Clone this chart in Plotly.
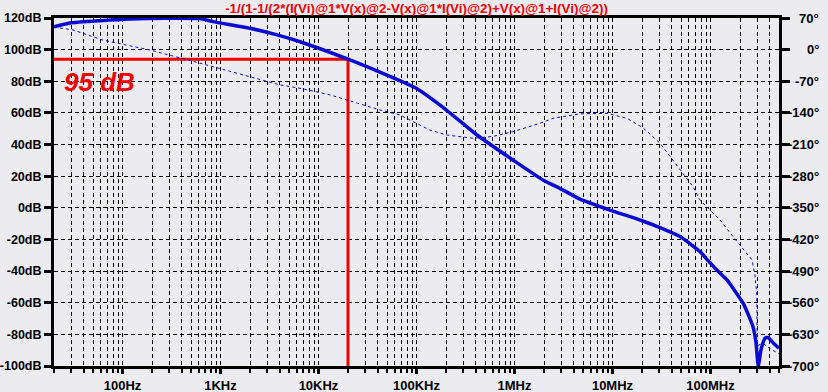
import plotly.graph_objects as go
import math

# ---- data ----
freq_mag = [20, 29, 59, 119, 272, 618, 838, 2000, 3775, 6475, 20000, 42400, 96600,
            205000, 405000, 966000, 1.95e6, 2.91e6, 4.66e6, 9.42e6, 1.91e7, 3.05e7,
            4.89e7, 7.82e7, 9.2e7, 1.16e8, 1.47e8, 2.15e8, 2.71e8, 2.91e8, 3.07e8,
            3.27e8, 3.6e8, 3.86e8, 4.45e8, 5.0e8]
mag_db = [114.4, 116.8, 118.3, 119.4, 119.8, 119.6, 117.7, 113.5, 109.3, 105.0, 94.0,
          85.8, 76.0, 61.5, 46.5, 30.2, 17.6, 12.3, 5.5, -1.4, -7.7, -12.5,
          -18.2, -27.7, -32.6, -39.3, -45.6, -60.3, -75.0, -85.0, -100.0,
          -90.0, -82.5, -82.0, -86.0, -88.8]

freq_phase = [20, 31.3, 63.2, 151, 191, 618, 2000, 4045, 6475, 13100, 42400, 67900,
              92100, 137000, 205000, 377000, 604000, 966000, 1.82e6, 2.47e6, 4.66e6,
              8.79e6, 1.41e7, 2.05e7, 3.05e7, 4.14e7, 6.62e7, 7.82e7, 1.25e8, 1.70e8,
              2.65e8, 2.84e8, 2.96e8, 3.0e8, 3.43e8, 4.21e8, 5.0e8]
phase_deg = [50, 43.5, 21, 3.6, -0.8, -30, -60, -78, -85.5, -100, -133.5, -144.6,
             -159, -178, -189, -196, -192, -181.5, -163, -152, -142,
             -141, -152, -173, -207, -244, -303, -333, -377, -414,
             -465, -499, -538, -655, -650, -664, -673]

marker_freq = 20000
marker_db = 94
marker_label = "95 dB"
title_text = "-1/(1-1/(2*(I(Vi)@1*V(x)@2-V(x)@1*I(Vi)@2)+V(x)@1+I(Vi)@2))"

db_ticks = [120, 100, 80, 60, 40, 20, 0, -20, -40, -60, -80, -100]
db_labels = [f"{v}dB" for v in db_ticks]
phase_ticks = [70, 0, -70, -140, -210, -280, -350, -420, -490, -560, -630, -700]
phase_labels = [f"{v}°" for v in phase_ticks]
freq_ticks = [1e2, 1e3, 1e4, 1e5, 1e6, 1e7, 1e8]
freq_labels = ["100Hz", "1KHz", "10KHz", "100KHz", "1MHz", "10MHz", "100MHz"]
freq_min, freq_max = 20, 5e8

# ---- styling ----
BG = "#ECECF0"
BLUE = "#0A0AD2"
RED = "#F00000"
FONT = "Liberation Sans"
W, H = 828, 392
ML, MR, MT, MB = 54, 49, 18, 26

fig = go.Figure()

fig.add_trace(go.Scatter(
    x=[freq_min, marker_freq, marker_freq], y=[marker_db, marker_db, -100],
    mode="lines", line=dict(color=RED, width=3), yaxis="y", hoverinfo="skip",
    showlegend=False))

fig.add_trace(go.Scatter(
    x=freq_phase, y=phase_deg, mode="lines", yaxis="y2",
    line=dict(color=BLUE, width=1, dash="3px,3px"), showlegend=False))

fig.add_trace(go.Scatter(
    x=freq_mag, y=mag_db, mode="lines", yaxis="y",
    line=dict(color=BLUE, width=3.5, shape="spline", smoothing=0.5),
    showlegend=False))

tickfont = dict(family=FONT, size=13, color="black", weight="bold")
ytickfont = dict(family=FONT, size=12.5, color="black", weight="bold")

fig.update_layout(
    width=W, height=H,
    margin=dict(l=ML, r=MR, t=MT, b=MB, pad=0, autoexpand=False),
    paper_bgcolor=BG, plot_bgcolor=BG,
    showlegend=False,
    title=dict(text=title_text, x=0.5, xref="paper", y=1 - 8 / H, yref="container",
               xanchor="center", yanchor="middle",
               font=dict(family=FONT, size=13.4, color=RED, weight="bold")),
    xaxis=dict(
        type="log", range=[math.log10(freq_min), math.log10(freq_max)],
        tickmode="array", tickvals=freq_ticks, ticktext=freq_labels,
        ticks="outside", ticklen=5, tickwidth=3, tickcolor="black",
        tickfont=tickfont, automargin=False,
        showline=True, linecolor="black", linewidth=3, mirror=True,
        showgrid=True, gridcolor="black", gridwidth=1, griddash="4px,3px",
        zeroline=False,
        minor=dict(dtick="D1", ticks="outside", ticklen=4, tickwidth=2,
                   tickcolor="black", showgrid=True, gridcolor="black",
                   gridwidth=1, griddash="4px,3px"),
    ),
    yaxis=dict(
        range=[-100, 120], tickmode="array", tickvals=db_ticks, ticktext=db_labels,
        ticks="outside", ticklen=7, tickwidth=3, tickcolor="black",
        tickfont=ytickfont, automargin=False,
        showline=True, linecolor="black", linewidth=3,
        showgrid=True, gridcolor="black", gridwidth=1, griddash="4px,3px",
        zeroline=False,
    ),
    yaxis2=dict(
        range=[-700, 70], overlaying="y", side="right",
        tickmode="array", tickvals=phase_ticks, ticktext=phase_labels,
        showticklabels=False, automargin=False,
        ticks="outside", ticklen=8, tickwidth=3, tickcolor="black",
        showline=True, linecolor="black", linewidth=3,
        showgrid=False, zeroline=False,
    ),
)

plot_w = W - ML - MR
for v, lab in zip(phase_ticks, phase_labels):
    fig.add_annotation(x=1 + (821 - (W - MR)) / plot_w, xref="paper", y=v, yref="y2",
                       text=lab, showarrow=False, xanchor="right", yanchor="middle",
                       font=tickfont)

fig.add_annotation(x=(62 - ML) / plot_w, xref="paper", y=79.5, yref="y",
                   text=f"<b><i>{marker_label}</i></b>", showarrow=False,
                   xanchor="left", yanchor="middle",
                   font=dict(family=FONT, size=26, color=RED))

fig.write_html("out.html", config={"displayModeBar": False},
               post_script="document.body.style.margin='0';document.body.style.overflow='hidden';")
